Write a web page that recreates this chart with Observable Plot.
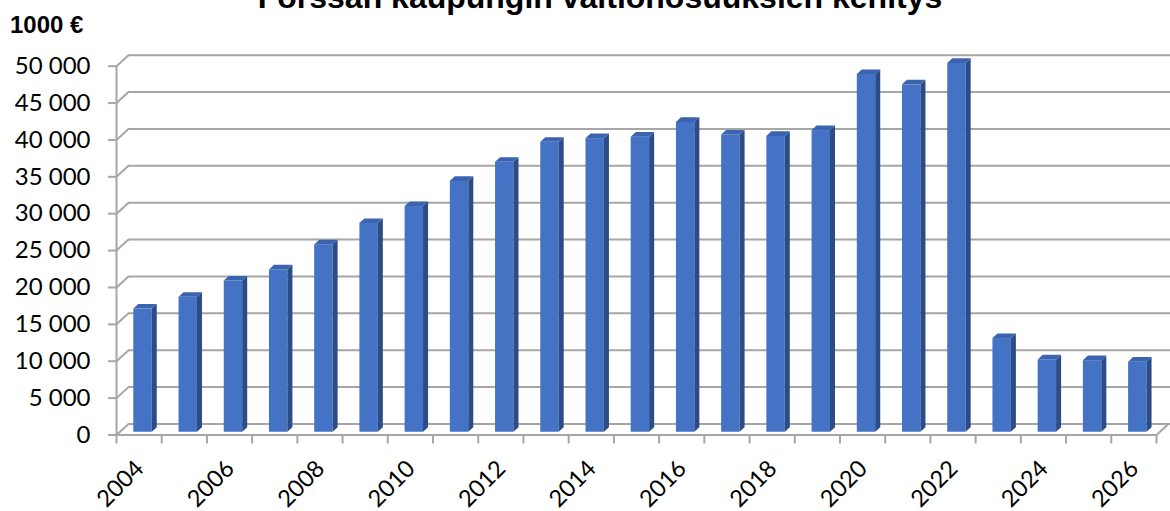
<!DOCTYPE html>
<html>
<head>
<meta charset="utf-8">
<script src="https://cdn.jsdelivr.net/npm/d3@7"></script>
<script src="https://cdn.jsdelivr.net/npm/@observablehq/plot@0.6"></script>
<style>
  html, body { margin: 0; padding: 0; background: #fff; }
  #wrap { position: relative; width: 1170px; height: 511px; overflow: hidden; }
  #title { position: absolute; left: 0; width: 1200px; top: -18.6px; text-align: center;
           font: bold 32px/32px "Liberation Sans", Arial, sans-serif; color: #000; z-index: 2; white-space: nowrap; }
  #unit { position: absolute; left: 10px; top: 13px; font: bold 24px/24px "Liberation Sans", Arial, sans-serif; color: #000; z-index: 2; }
  #chart { position: absolute; left: 0; top: 0; }
  #chart svg text { font-family: Lato, "Open Sans", sans-serif; }
</style>
</head>
<body>
<div id="wrap">
  <div id="chart"></div>
  <div id="title">Forssan kaupungin valtionosuuksien kehitys</div>
  <div id="unit">1000 €</div>
</div>
<script>
// ---- data ----
const years = [2004, 2005, 2006, 2007, 2008, 2009, 2010, 2011, 2012, 2013, 2014, 2015,
               2016, 2017, 2018, 2019, 2020, 2021, 2022, 2023, 2024, 2025, 2026];
const values = [16700, 18300, 20500, 22000, 25400, 28300, 30600, 34000, 36600, 39300, 39800, 40000,
                42000, 40300, 40100, 40900, 48500, 47100, 50000, 12700, 9800, 9700, 9500];
const yTicks = [0, 5000, 10000, 15000, 20000, 25000, 30000, 35000, 40000, 45000, 50000];
const labelYears = [2004, 2006, 2008, 2010, 2012, 2014, 2016, 2018, 2020, 2022, 2024, 2026];

// ---- geometry / style constants ----
const W = 1170, H = 511;
const mL = 116, mR = 14, mT = 65.7, mB = 76.5;
const pxPerX = (W - mL - mR) / 23;           // px per category
const unitsPerPy = 50000 / (H - mB - mT);     // y units per px
const DX = 12 / pxPerX;                       // depth offset in x units
const DY = 11 * unitsPerPy;                   // depth offset in y units
const F0 = 0.25, S = 0.42;                    // bar front depth, bar depth
const BX = 0.383, BW = 0.407;                 // bar front face offset and width
const GRID = "#a6a6a6";
const FRONT = "#4472c4", SIDE = "#2c4c88", TOP = "#3a63b0";
const FONT = "Lato, 'Open Sans', sans-serif";

const xMin = years[0], xMax = years[years.length - 1] + 1;
const B = F0 * DY;

const bars = years.map((yr, i) => ({year: yr, v: values[i]}));
const sideFaces = bars.flatMap(d => {
  const xr = d.year + BX + BW;
  return [
    {id: d.year, x: xr, y1: B, y2: d.v + B},
    {id: d.year, x: xr + S * DX, y1: B + S * DY, y2: d.v + B + S * DY}
  ];
});
const topFaces = bars.flatMap(d => {
  const xl = d.year + BX, xr = d.year + BX + BW, t = d.v + B;
  return [
    {id: d.year, x: xl, y1: t, y2: t},
    {id: d.year, x: xl + S * DX, y1: t, y2: t + S * DY},
    {id: d.year, x: xr, y1: t, y2: t + S * DY},
    {id: d.year, x: xr + S * DX, y1: t + S * DY, y2: t + S * DY}
  ];
});
const boundaries = years.concat([xMax]);
const fmt = d => d3.format(",")(d).replace(/,/g, " ");

const chart = Plot.plot({
  width: W, height: H,
  marginLeft: mL, marginRight: mR, marginTop: mT, marginBottom: mB,
  style: {fontFamily: FONT, background: "transparent", overflow: "visible"},
  x: {type: "linear", domain: [xMin, xMax], label: null},
  y: {type: "linear", domain: [0, 50000], label: null},
  marks: [
    // back wall gridlines
    Plot.ruleY(yTicks, {y: d => d + DY, x1: xMin + DX, x2: xMax + DX + 0.2, stroke: GRID, strokeWidth: 2}),
    // left wall diagonals
    Plot.link(yTicks, {x1: xMin, y1: d => d, x2: xMin + DX, y2: d => d + DY, stroke: GRID, strokeWidth: 2}),
    // floor front edge and right diagonal
    Plot.ruleY([0], {x1: xMin, x2: xMax, stroke: GRID, strokeWidth: 2}),
    Plot.link([0], {x1: xMax, y1: d => d, x2: xMax + DX, y2: d => d + DY, stroke: GRID, strokeWidth: 2}),
    // front y-axis line
    Plot.ruleX([xMin], {y1: 0, y2: 50000, stroke: GRID, strokeWidth: 2}),
    // y axis ticks and labels
    Plot.axisY({ticks: yTicks, tickSize: 8, tickPadding: 18, tickFormat: fmt, label: null,
                stroke: GRID, strokeWidth: 2, fill: "#000", fontSize: 24, fontFamily: FONT}),
    // x axis ticks at category boundaries
    Plot.axisX({ticks: boundaries, tickSize: 9, tickFormat: () => "", label: null, stroke: GRID, strokeWidth: 2}),
    // x labels
    Plot.text(labelYears, {x: d => d + 0.5, frameAnchor: "bottom", text: d => String(d),
              rotate: -45, textAnchor: "end", lineAnchor: "bottom", dx: 6, dy: 35,
              fontSize: 23.5, fontFamily: FONT, fill: "#000"}),
    // bars
    Plot.rect(bars, {x1: d => d.year + BX, x2: d => d.year + BX + BW, y1: d => B, y2: d => d.v + B, fill: FRONT}),
    Plot.area(sideFaces, {x1: "x", y1: "y1", y2: "y2", z: "id", fill: SIDE}),
    Plot.area(topFaces, {x1: "x", y1: "y1", y2: "y2", z: "id", fill: TOP})
  ]
});
document.getElementById("chart").appendChild(chart);
</script>
</body>
</html>
